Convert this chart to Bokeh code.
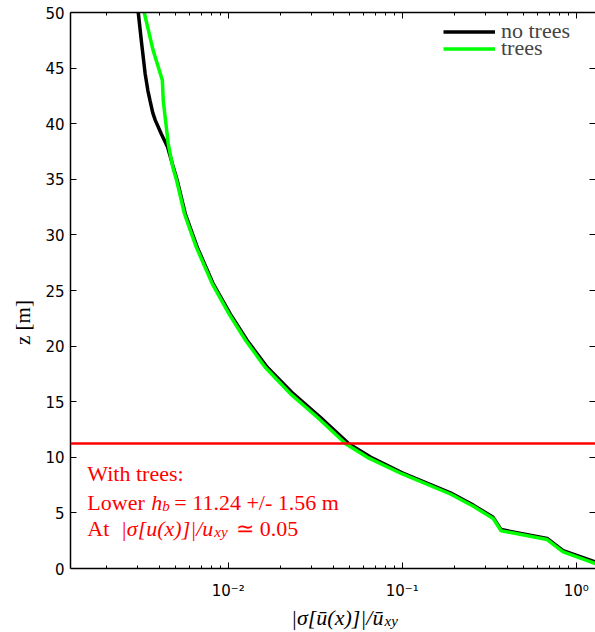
from bokeh.plotting import figure
from bokeh.models import (Range1d, LogAxis, LinearAxis, FixedTicker, SingleIntervalTicker,
                          CustomJSTickFormatter, Span, Label, Legend, LegendItem)
from bokeh.embed import file_html
from bokeh.resources import INLINE

# ---------------- data ----------------
z_notrees = [0.3, 1.6, 2.7, 3.5, 4.6, 5.7, 6.8, 8.6, 10.0, 11.2, 13.6, 15.7, 18.1,
             20.5, 22.9, 25.6, 28.9, 31.9, 34.9, 36.1, 37.9, 39.1, 40.3, 41.0, 42.1,
             43.0, 44.5, 47.2, 50.0]
u_notrees = [1.45, 0.84, 0.68, 0.37, 0.333, 0.256, 0.189, 0.1, 0.066, 0.0495, 0.0338,
             0.0237, 0.01675, 0.01285, 0.01026, 0.0082, 0.00663, 0.00566, 0.00509, 0.00483,
             0.00448, 0.00412, 0.00381, 0.00368, 0.00355, 0.00345, 0.00333, 0.00318, 0.00304]

z_trees = [0.2, 1.5, 2.6, 3.4, 4.5, 5.6, 6.7, 8.5, 10.0, 11.2, 13.6, 15.7, 18.1,
           20.5, 22.9, 25.6, 28.9, 31.9, 34.9, 36.1, 38.2, 42.1, 43.9, 46.6, 50.0]
u_trees = [1.42, 0.84, 0.68, 0.37, 0.333, 0.256, 0.189, 0.1, 0.063, 0.0475, 0.0325,
           0.0228, 0.0163, 0.0126, 0.0101, 0.0081, 0.00655, 0.0056, 0.00505, 0.0048,
           0.00452, 0.00423, 0.00418, 0.0037, 0.00329]

series_names = ["no trees", "trees"]
hb_value = 11.24

x_tick_values = [0.001, 0.01, 0.1, 1.0]
x_tick_labels = ["10\u207b\u00b3", "10\u207b\u00b2", "10\u207b\u00b9", "10\u2070"]
x_minor_ticks = [m * 10.0 ** k for k in range(-3, 1) for m in range(2, 10)]

SERIF = "Liberation Serif"
SANS = "DejaVu Sans"
RED = "#ff0000"

# ---------------- figure ----------------
# the frame reaches the bottom of the canvas; the x axis is pinned at z = 0
p = figure(width=595, height=632, x_axis_type="log",
           x_range=Range1d(0.00124, 1.29), y_range=Range1d(-5.755, 50),
           output_backend="svg", toolbar_location=None,
           min_border_left=70, min_border_top=12, min_border_right=0, min_border_bottom=0)
p.outline_line_color = None
p.grid.visible = False
p.background_fill_color = "white"
p.border_fill_color = "white"

xticker = FixedTicker(ticks=x_tick_values, minor_ticks=x_minor_ticks)
yticker = SingleIntervalTicker(interval=5, num_minor_ticks=0)

xfmt = CustomJSTickFormatter(args=dict(vals=x_tick_values, labs=x_tick_labels), code="""
let best = 0;
for (let i = 0; i < vals.length; i++) {
  if (Math.abs(Math.log10(tick) - Math.log10(vals[i])) <
      Math.abs(Math.log10(tick) - Math.log10(vals[best]))) best = i;
}
return labs[best];
""")
blank = CustomJSTickFormatter(code="return '';")


def style_axis(ax):
    ax.axis_line_color = "black"
    ax.axis_line_width = 1.5
    ax.major_tick_in = 6
    ax.major_tick_out = 0
    ax.minor_tick_in = 3
    ax.minor_tick_out = 0
    ax.major_tick_line_color = "black"
    ax.minor_tick_line_color = "black"
    ax.major_label_text_font = SANS
    ax.major_label_text_font_size = "15px"
    ax.major_label_text_color = "black"


xa = p.xaxis[0]
xa.ticker = xticker
xa.formatter = xfmt
xa.fixed_location = 0
style_axis(xa)
xa.major_label_standoff = 13

ya = p.yaxis[0]
ya.ticker = yticker
ya.bounds = (0, 50)
style_axis(ya)
ya.major_label_standoff = 6
ya.axis_label = "z [m]"
ya.axis_label_text_font = SERIF
ya.axis_label_text_font_style = "normal"
ya.axis_label_text_font_size = "21px"
ya.axis_label_text_color = "black"
ya.axis_label_standoff = 7

top = LogAxis(ticker=xticker, formatter=blank, major_label_standoff=0)
style_axis(top)
p.add_layout(top, "above")

right = LinearAxis(ticker=yticker, formatter=blank, major_label_standoff=0, bounds=(0, 50))
style_axis(right)
right.axis_line_color = None
p.add_layout(right, "right")

# ---------------- series ----------------
r_nt = p.line(u_notrees, z_notrees, line_color="black", line_width=3.5)
r_t = p.line(u_trees, z_trees, line_color="#00ff00", line_width=3.5)

p.add_layout(Span(location=hb_value, dimension="width", line_color=RED, line_width=2.5))


def legend_row(name, renderer, vy):
    lg = Legend(items=[LegendItem(label=name, renderers=[renderer])],
                location=(373, vy), orientation="vertical",
                label_text_font=SERIF, label_text_font_size="22px",
                glyph_width=52, glyph_height=17, label_height=17, label_standoff=6,
                spacing=0, padding=0, margin=0,
                border_line_color=None, background_fill_alpha=0)
    p.add_layout(lg)


legend_row(series_names[0], r_nt, 588)
legend_row(series_names[1], r_t, 571)


def lab(x, y, text, size="22px", style="normal", align="left", xo=0, yo=0, color=RED):
    p.add_layout(Label(x=x, y=y, text=text, text_font=SERIF, text_font_size=size,
                       text_font_style=style, text_color=color, text_align=align,
                       text_baseline="alphabetic", x_offset=xo, y_offset=yo))


# annotation in red
x0 = 0.00155
lab(x0, 8.54, "With trees:")
lab(x0, 5.94, "Lower")
lab(x0, 5.94, "h", style="italic", xo=64)
lab(x0, 5.94, "b", size="15px", style="italic", xo=75, yo=-4)
lab(x0, 5.94, "= %.2f +/- 1.56 m" % hb_value, xo=87)
lab(x0, 3.6, "At")
lab(x0, 3.6, "|\u03c3[u(x)]|/u", style="italic", align="right", xo=126)
lab(x0, 3.6, "xy", size="15px", style="italic", xo=127, yo=-4)
lab(x0, 3.6, "\u2243 0.05", xo=149)

# x axis label (composite, with subscript)
lab(0.078, -4.45, "|\u03c3[\u016b(x)]|/\u016b", style="italic", align="right", color="black")
lab(0.078, -4.45, "xy", size="15px", style="italic", xo=1, yo=-3, color="black")

open("out.html", "w").write(file_html(p, INLINE))
